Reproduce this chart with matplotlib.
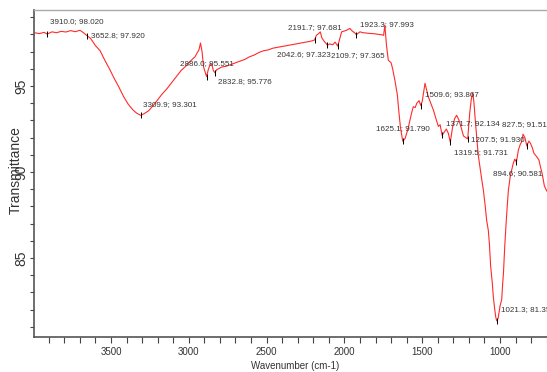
import numpy as np
import matplotlib
matplotlib.use('Agg')
import matplotlib.pyplot as plt
from matplotlib.ticker import MultipleLocator

plt.rcParams['font.family'] = ['Liberation Sans', 'DejaVu Sans']

# FTIR spectrum, traced point by point (cm-1, %T)
wavenumber = [3995, 3960, 3930, 3910, 3880, 3850, 3820, 3790, 3760, 3730, 3700, 3680,
              3652.8, 3630, 3600, 3570, 3540, 3510, 3480, 3450, 3420, 3390, 3360, 3335,
              3309.9, 3290, 3260, 3230, 3200, 3170, 3140, 3110, 3080, 3050, 3020, 2990,
              2960, 2945, 2935, 2925, 2915, 2905, 2895, 2886, 2875, 2862, 2852, 2842,
              2832.8, 2820, 2790, 2760, 2730, 2700, 2670, 2640, 2610, 2580, 2550, 2520,
              2490, 2460, 2430, 2400, 2370, 2340, 2310, 2280, 2250, 2220, 2200, 2191.7,
              2180, 2165, 2155, 2145, 2130, 2115, 2109.7, 2095, 2075, 2060, 2042.6, 2030,
              2018, 2000, 1985, 1965, 1950, 1935, 1923.3, 1900, 1880, 1860, 1840, 1820,
              1800, 1780, 1760, 1748, 1740, 1730, 1718, 1700, 1690, 1675, 1660, 1650,
              1640, 1625.1, 1610, 1600, 1590, 1578, 1565, 1557, 1545, 1535, 1520, 1509.6,
              1500, 1490, 1482, 1470, 1461, 1445, 1428, 1410, 1396, 1385, 1371.7, 1360,
              1345, 1332, 1319.5, 1305, 1292, 1279, 1265, 1250, 1235, 1220, 1207.5, 1195,
              1185, 1176, 1168, 1158, 1150, 1140, 1129, 1118, 1107, 1096, 1086, 1075,
              1068, 1060, 1050, 1043, 1035, 1028, 1021.3, 1012, 1000, 989, 983, 978,
              970, 961, 953, 946, 935, 925, 915, 905, 894.6, 882, 870, 861,
              852, 840, 827.5, 815, 804, 792, 782, 765, 750, 740, 729, 715, 700]
transmittance = [98.10, 98.05, 98.12, 98.02, 98.15, 98.10, 98.18, 98.14, 98.22, 98.16, 98.24, 98.12,
                 97.92, 97.75, 97.35, 97.05, 96.50, 96.00, 95.45, 94.95, 94.40, 93.95, 93.62, 93.42,
                 93.30, 93.38, 93.55, 93.85, 94.20, 94.55, 94.85, 95.20, 95.55, 95.90, 96.15, 96.45,
                 96.70, 96.95, 97.10, 97.50, 97.00, 96.10, 95.80, 95.55, 95.95, 96.30, 96.25, 95.90,
                 95.78, 95.95, 96.10, 96.15, 96.25, 96.35, 96.45, 96.55, 96.70, 96.80, 96.95, 97.05,
                 97.10, 97.20, 97.25, 97.30, 97.35, 97.40, 97.45, 97.50, 97.55, 97.60, 97.65, 97.68,
                 97.95, 98.05, 98.15, 97.80, 97.60, 97.45, 97.37, 97.45, 97.40, 97.55, 97.32, 97.75,
                 98.15, 98.20, 98.25, 98.35, 98.20, 98.10, 97.99, 98.15, 98.10, 98.08, 98.06, 98.05,
                 98.03, 98.00, 97.98, 97.95, 98.55, 97.40, 96.50, 96.35, 96.00, 95.30, 94.50, 93.50,
                 92.60, 91.79, 91.95, 92.25, 92.55, 93.05, 93.55, 93.80, 93.75, 94.00, 94.15, 93.87,
                 94.10, 94.70, 95.16, 94.70, 94.38, 94.00, 93.60, 93.05, 92.65, 92.75, 92.13, 92.30,
                 92.50, 92.25, 91.73, 92.60, 93.10, 93.30, 93.05, 92.60, 92.10, 92.00, 91.93, 93.40,
                 94.20, 94.60, 94.10, 92.90, 92.05, 91.00, 90.30, 89.60, 88.95, 88.10, 87.20, 86.60,
                 85.80, 84.50, 83.60, 82.75, 82.10, 81.60, 81.35, 81.50, 82.20, 82.60, 83.50, 84.10,
                 85.60, 87.00, 88.10, 88.95, 89.70, 90.12, 90.50, 90.75, 90.58, 91.28, 91.60, 91.76,
                 92.20, 92.00, 91.51, 91.80, 91.67, 91.40, 91.09, 90.90, 90.70, 90.30, 89.90, 89.20, 88.90]

# picked peaks
peak_wn = [3910.0, 3652.8, 3309.9, 2886.0, 2832.8, 2191.7, 2042.6, 2109.7, 1923.3,
           1625.1, 1509.6, 1371.7, 1319.5, 1207.5, 1021.3, 894.6, 827.5]
peak_t = [98.020, 97.920, 93.301, 95.551, 95.776, 97.681, 97.323, 97.365, 97.993,
          91.790, 93.867, 92.134, 91.731, 91.930, 81.352, 90.581, 91.514]
# label offsets in points
label_dx = [2, 2.5, 2, -19, 2, -19, -44, 2.5, 2.5, -19, 3, 2.5, 2.5, 2, 3, -17, -18]
label_dy = [9, 0, 8, 9.5, -6.5, 9, -6, -7.5, 7.5, 9.5, 8, 8.5, -7.5, -0.8, 8, -8.5, 15.5]

fig = plt.figure(figsize=(5.47, 3.72), dpi=100)
ax = fig.add_axes([34 / 547, 35 / 372, 513 / 547, 327 / 372])

ax.plot(wavenumber, transmittance, color='#ff2a2a', lw=0.8)
ax.plot(peak_wn, peak_t, ls='none', marker='|', ms=4, mew=0.7, color='black')

for wn, t, dx, dy in zip(peak_wn, peak_t, label_dx, label_dy):
    ax.annotate('%.1f; %.3f' % (wn, t), (wn, t), xytext=(dx, dy),
                textcoords='offset points', fontsize=5.8, color='#333333',
                ha='left', va='center', annotation_clip=False)

ax.set_xlim(3995, 698)
ax.set_ylim(80.41, 99.42)
ax.xaxis.set_major_locator(MultipleLocator(500))
ax.xaxis.set_minor_locator(MultipleLocator(100))
ax.yaxis.set_major_locator(MultipleLocator(5))
ax.yaxis.set_minor_locator(MultipleLocator(1))

ax.tick_params(axis='x', which='both', direction='out', length=4.5, width=0.8,
               colors='#444444', labelsize=7, pad=3)
ax.tick_params(axis='y', which='both', direction='out', length=3, width=0.8,
               colors='#444444', labelsize=10, pad=1)
for lab in ax.get_yticklabels():
    lab.set_rotation(90)
    lab.set_va('center')
for lab in ax.get_xticklabels() + ax.get_yticklabels():
    lab.set_color('#333333')

ax.spines['right'].set_visible(False)
ax.spines['top'].set_color('#aaaaaa')
ax.spines['top'].set_linewidth(1.0)
for s in ['left', 'bottom']:
    ax.spines[s].set_color('#555555')
    ax.spines[s].set_linewidth(1.2)

ax.set_xlabel('Wavenumber (cm-1)', fontsize=7, color='#333333')
ax.xaxis.set_label_coords((295 - 34) / 513, -(361 - 337) / 327)
ax.set_ylabel('Transmittance', fontsize=10, color='#333333')
ax.yaxis.set_label_coords(-(34 - 23) / 513, (337 - 170) / 327)

fig.savefig('out.png', dpi=100)
